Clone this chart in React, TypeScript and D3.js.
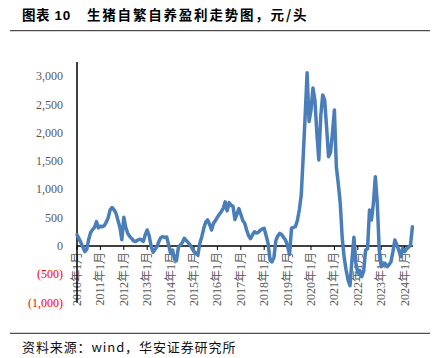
import React from "react";
import * as d3 from "d3";

// Monthly profit of self-breeding hog farming, yuan/head, Jan 2010 onwards
const profit: number[] = [
  200, 130, 60, -20, -100, -60, 120, 240, 290, 330, 430, 320,
  350, 340, 360, 420, 500, 640, 680, 640, 580, 450, 330, 110,
  510, 330, 224, 170, 135, 90, 80, 100, 120, 110, 80, 200,
  283, 180, 0, -110, -60, -10, 80, 150, 165, 150, 160, 20,
  -130, -70, -235, -260, -20, 20, 60, 136, 100, 60, 20, -40,
  -100, -130, -160, 50, 165, 312, 420, 460, 380, 283, 400, 450,
  510, 560, 606, 666, 780, 620, 766, 720, 700, 470, 560, 660,
  560, 450, 400, 283, 180, 130, 200, 250, 230, 240, 280, 300,
  312, 180, 47, -250, -280, -200, 100, 180, 224, 200, 150, 100,
  0, -150, 312, 330, 341, 450, 636, 900, 1578, 2300, 3060, 2200,
  2400, 2790, 2580, 2000, 1520, 2300, 2668, 2580, 2100, 1578, 1650, 2000,
  2403, 1400, 1100, 754, 150, -200, -424, -600, -700, -247, 153, -300,
  -480, -430, -542, -450, -71, -50, 636, 460, 754, 1225, 754, -71,
  -365, -320, -306, -365, -330, -280, -100, 106, 20, -71, -189, -40,
  -100, -50, -20, 10, 341,
];

const xTickLabels = [
  "2010年1月", "2011年1月", "2012年1月", "2013年1月", "2014年1月",
  "2015年1月", "2016年1月", "2017年1月", "2018年1月", "2019年1月",
  "2020年1月", "2021年1月", "2022年1月", "2023年1月", "2024年1月",
];

const yTickValues = [-1000, -500, 0, 500, 1000, 1500, 2000, 2500, 3000];

const title1 = "图表 10";
const title2 = "生猪自繁自养盈利走势图，元/头";
const source = "资料来源：wind，华安证券研究所";

export default function App() {
  const W = 436;
  const H = 358;
  const x = d3.scaleLinear().domain([0, 168]).range([77, 404.6]);
  const y = d3.scaleLinear().domain([-1000, 3000]).range([302.6, 76.2]);
  const line = d3
    .line<number>()
    .x((_, i) => x(i))
    .y((d) => y(d));
  const fmt = d3.format(",");
  const serif = "'Liberation Serif', 'Times New Roman', 'Noto Sans CJK SC', serif";
  const axisRight = x(172.3);

  return (
    <svg
      width={W}
      height={H}
      viewBox={`0 0 ${W} ${H}`}
      style={{ position: "absolute", left: 0, top: 0, background: "#fff" }}
    >
      <rect x={0} y={0} width={W} height={H} fill="#fff" />
      {/* title */}
      <text
        x={22}
        y={20}
        fontSize={13.5}
        fontWeight="bold"
        fill="#000"
        letterSpacing={0.6}
        fontFamily="'Liberation Sans', 'Noto Sans CJK SC', sans-serif"
      >
        {title1}
      </text>
      <text
        x={87}
        y={20}
        fontSize={13.5}
        fontWeight="bold"
        fill="#000"
        letterSpacing={1.8}
        fontFamily="'Noto Sans CJK SC', sans-serif"
      >
        {title2}
      </text>
      <line x1={10} x2={430} y1={30.7} y2={30.7} stroke="#222" strokeWidth={1} />

      {/* y axis labels */}
      {yTickValues.map((v) => (
        <text
          key={v}
          x={63}
          y={y(v)}
          textAnchor="end"
          dominantBaseline="central"
          fontSize={12}
          fontFamily={serif}
          fill={v < 0 ? "#FF0000" : "#595959"}
        >
          {v < 0 ? `(${fmt(-v)})` : fmt(v)}
        </text>
      ))}

      {/* x axis ticks and labels */}
      {xTickLabels.map((lab, i) => {
        const xi = x(i * 12);
        return (
          <g key={lab}>
            <line x1={xi} x2={xi} y1={y(0)} y2={y(0) + 4} stroke="#000" strokeWidth={1} />
            <text
              transform={`translate(${xi},${y(0) + 6}) rotate(-90)`}
              textAnchor="end"
              dominantBaseline="central"
              fontSize={12}
              fontFamily={serif}
              fill="#595959"
            >
              {lab}
            </text>
          </g>
        );
      })}

      {/* axes */}
      <line x1={77} x2={77} y1={62} y2={y(-1000)} stroke="#000" strokeWidth={1.5} />
      <line x1={77} x2={axisRight} y1={y(0)} y2={y(0)} stroke="#000" strokeWidth={1.5} />

      {/* data line */}
      <path
        d={line(profit) || ""}
        fill="none"
        stroke="#4A7EBB"
        strokeWidth={3.5}
        strokeLinejoin="round"
        strokeLinecap="round"
      />

      {/* footer */}
      <line x1={10} x2={430} y1={333.3} y2={333.3} stroke="#222" strokeWidth={1} />
      <text
        x={22}
        y={346}
        dominantBaseline="central"
        fontSize={13}
        letterSpacing={0.9}
        fill="#111"
        fontFamily="'Noto Sans CJK SC', 'Liberation Sans', sans-serif"
      >
        {source}
      </text>
    </svg>
  );
}
